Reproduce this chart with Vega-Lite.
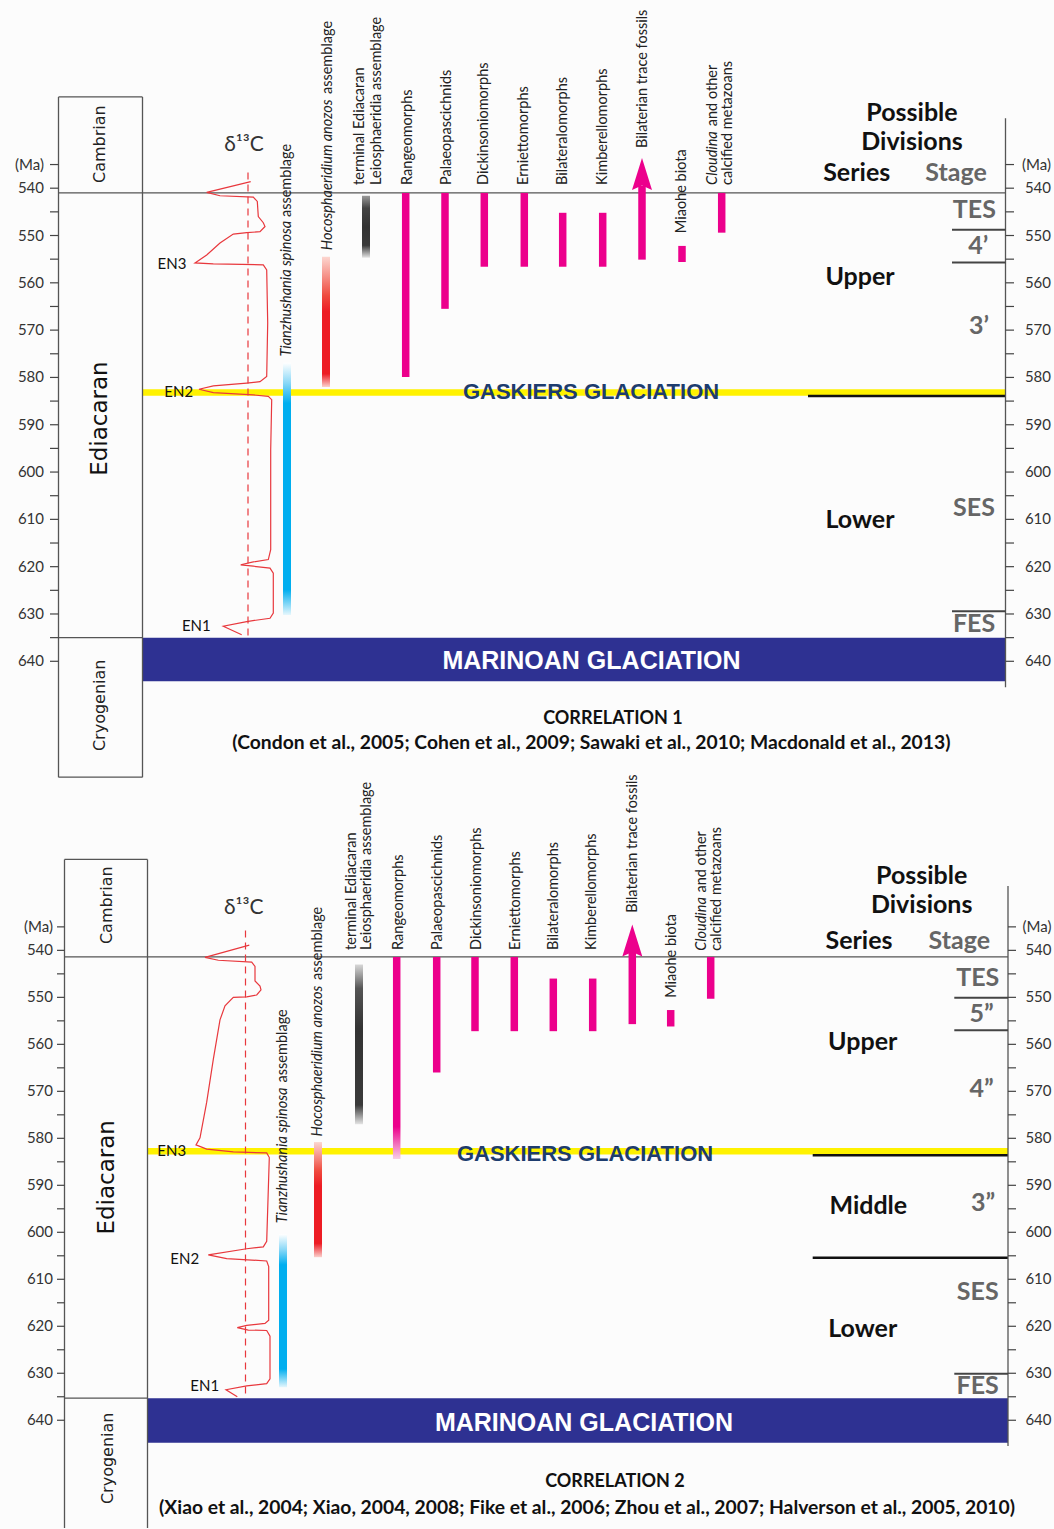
{
"$schema":"https://vega.github.io/schema/vega-lite/v6.json",
"width":1054,"height":1529,
"autosize":{"type":"fit","contains":"padding"},
"padding":0,
"background":"#fcfcfc",
"config":{"view":{"stroke":null},"axis":{"disable":true},"text":{"font":"Lato"}},
"datasets":{
"c1":[{"i":1,"c":250.7,"a":538.6},{"i":2,"c":206.7,"a":540.9},{"i":3,"c":220,"a":541.6},{"i":4,"c":253.3,"a":541.9},{"i":5,"c":257.3,"a":542.8},{"i":6,"c":258.3,"a":546.0},{"i":7,"c":263.3,"a":547.3},{"i":8,"c":265,"a":548.1},{"i":9,"c":260,"a":549.2},{"i":10,"c":246.7,"a":549.4},{"i":11,"c":233.3,"a":549.7},{"i":12,"c":220,"a":551.6},{"i":13,"c":206.7,"a":554.1},{"i":14,"c":195,"a":555.8},{"i":15,"c":213.3,"a":556.0},{"i":16,"c":263.3,"a":556.2},{"i":17,"c":266.7,"a":557.3},{"i":18,"c":267.7,"a":568.5},{"i":19,"c":266.7,"a":579.8},{"i":20,"c":260,"a":580.9},{"i":21,"c":246.7,"a":581.2},{"i":22,"c":213.3,"a":581.8},{"i":23,"c":199,"a":582.5},{"i":24,"c":213.3,"a":583.2},{"i":25,"c":253.3,"a":583.7},{"i":26,"c":268.3,"a":584.0},{"i":27,"c":271.7,"a":584.7},{"i":28,"c":270.7,"a":595.3},{"i":29,"c":270.7,"a":616.4},{"i":30,"c":268.3,"a":618.5},{"i":31,"c":253.3,"a":619.0},{"i":32,"c":240.7,"a":619.6},{"i":33,"c":253.3,"a":619.9},{"i":34,"c":270,"a":620.3},{"i":35,"c":273.3,"a":621.4},{"i":36,"c":273.3,"a":629.8},{"i":37,"c":270,"a":630.9},{"i":38,"c":246.7,"a":631.6},{"i":39,"c":223.3,"a":632.6},{"i":40,"c":241.7,"a":634.4}],
"c2":[{"i":1,"c":249.3,"a":538.9},{"i":2,"c":205,"a":541.5},{"i":3,"c":218.3,"a":542.1},{"i":4,"c":251.7,"a":542.5},{"i":5,"c":255,"a":543.4},{"i":6,"c":255,"a":546.5},{"i":7,"c":260,"a":547.6},{"i":8,"c":261,"a":548.4},{"i":9,"c":256.7,"a":549.5},{"i":10,"c":246.7,"a":549.9},{"i":11,"c":233.3,"a":550.0},{"i":12,"c":225,"a":551.8},{"i":13,"c":220,"a":554.8},{"i":14,"c":213.3,"a":563.2},{"i":15,"c":206.7,"a":572.3},{"i":16,"c":200,"a":579.9},{"i":17,"c":196,"a":581.4},{"i":18,"c":206.7,"a":582.3},{"i":19,"c":233.3,"a":582.9},{"i":20,"c":266.7,"a":583.1},{"i":21,"c":269.3,"a":584.1},{"i":22,"c":266.7,"a":601.9},{"i":23,"c":263.3,"a":603.1},{"i":24,"c":246.7,"a":603.5},{"i":25,"c":208.3,"a":604.8},{"i":26,"c":226.7,"a":605.6},{"i":27,"c":266.7,"a":606.1},{"i":28,"c":268.7,"a":607.3},{"i":29,"c":268.7,"a":618.7},{"i":30,"c":265,"a":619.4},{"i":31,"c":246.7,"a":619.8},{"i":32,"c":237.3,"a":620.3},{"i":33,"c":248.3,"a":620.8},{"i":34,"c":266.7,"a":620.9},{"i":35,"c":270,"a":622.1},{"i":36,"c":270,"a":631.2},{"i":37,"c":266.7,"a":632.2},{"i":38,"c":246.7,"a":632.7},{"i":39,"c":226,"a":633.5},{"i":40,"c":237.3,"a":635.0}]
},
"resolve":{"scale":{"y":"independent"}},
"layer":[
{
"encoding":{
"x":{"field":"c","type":"quantitative","scale":{"domain":[0,1054],"nice":false,"zero":false}},
"y":{"field":"a","type":"quantitative","scale":{"domain":[500.22,823.2],"reverse":true,"nice":false,"zero":false}}
},
"layer":[
{"data":{"values":[{"c":142.5,"c2":1005.5,"a":635,"a2":644.2}]},"mark":{"type":"rect","color":"#2e3192"},"encoding":{"x2":{"field":"c2"},"y2":{"field":"a2"}}},
{"data":{"values":[{"c":142.5,"c2":1005.5,"a":583.2}]},"mark":{"type":"rule","color":"#fff200","strokeWidth":6.5},"encoding":{"x2":{"field":"c2"}}},
{"data":{"values":[{"c":808,"c2":1005.5,"a":583.95}]},"mark":{"type":"rule","color":"#111111","strokeWidth":2.5},"encoding":{"x2":{"field":"c2"}}},
{"data":{"values":[
{"c":58.5,"c2":1005.5,"a":541,"a2":541},
{"c":58.5,"c2":142.5,"a":635,"a2":635},
{"c":58.5,"c2":142.5,"a":520.7,"a2":520.7},
{"c":58.5,"c2":142.5,"a":664.5,"a2":664.5},
{"c":58.5,"c2":58.5,"a":520.7,"a2":664.5},
{"c":142.5,"c2":142.5,"a":520.7,"a2":664.5},
{"c":1005.5,"c2":1005.5,"a":525.2,"a2":645.5}
]},"mark":{"type":"rule","color":"#555555","strokeWidth":1.3},"encoding":{"x2":{"field":"c2"},"y2":{"field":"a2"}}},
{"data":{"values":[{"c":952,"c2":1005.5,"a":548.8},{"c":952,"c2":1005.5,"a":555.7},{"c":952,"c2":1005.5,"a":629.4}]},"mark":{"type":"rule","color":"#444444","strokeWidth":2},"encoding":{"x2":{"field":"c2"}}},
{"data":{"values":[
{"c":50,"c2":58.5,"a":535},{"c":50,"c2":58.5,"a":540},{"c":50,"c2":58.5,"a":545},{"c":50,"c2":58.5,"a":550},{"c":50,"c2":58.5,"a":555},{"c":50,"c2":58.5,"a":560},{"c":50,"c2":58.5,"a":565},{"c":50,"c2":58.5,"a":570},{"c":50,"c2":58.5,"a":575},{"c":50,"c2":58.5,"a":580},{"c":50,"c2":58.5,"a":585},{"c":50,"c2":58.5,"a":590},{"c":50,"c2":58.5,"a":595},{"c":50,"c2":58.5,"a":600},{"c":50,"c2":58.5,"a":605},{"c":50,"c2":58.5,"a":610},{"c":50,"c2":58.5,"a":615},{"c":50,"c2":58.5,"a":620},{"c":50,"c2":58.5,"a":625},{"c":50,"c2":58.5,"a":630},{"c":50,"c2":58.5,"a":635},{"c":50,"c2":58.5,"a":640},
{"c":1005.5,"c2":1014,"a":535},{"c":1005.5,"c2":1014,"a":540},{"c":1005.5,"c2":1014,"a":545},{"c":1005.5,"c2":1014,"a":550},{"c":1005.5,"c2":1014,"a":555},{"c":1005.5,"c2":1014,"a":560},{"c":1005.5,"c2":1014,"a":565},{"c":1005.5,"c2":1014,"a":570},{"c":1005.5,"c2":1014,"a":575},{"c":1005.5,"c2":1014,"a":580},{"c":1005.5,"c2":1014,"a":585},{"c":1005.5,"c2":1014,"a":590},{"c":1005.5,"c2":1014,"a":595},{"c":1005.5,"c2":1014,"a":600},{"c":1005.5,"c2":1014,"a":605},{"c":1005.5,"c2":1014,"a":610},{"c":1005.5,"c2":1014,"a":615},{"c":1005.5,"c2":1014,"a":620},{"c":1005.5,"c2":1014,"a":625},{"c":1005.5,"c2":1014,"a":630},{"c":1005.5,"c2":1014,"a":635},{"c":1005.5,"c2":1014,"a":640}
]},"mark":{"type":"rule","color":"#444444","strokeWidth":1.2},"encoding":{"x2":{"field":"c2"}}},
{"data":{"values":[
{"t":"(Ma)","c":44,"a":535},{"t":"540","c":44,"a":540},{"t":"550","c":44,"a":550},{"t":"560","c":44,"a":560},{"t":"570","c":44,"a":570},{"t":"580","c":44,"a":580},{"t":"590","c":44,"a":590},{"t":"600","c":44,"a":600},{"t":"610","c":44,"a":610},{"t":"620","c":44,"a":620},{"t":"630","c":44,"a":630},{"t":"640","c":44,"a":640},
{"t":"(Ma)","c":1051,"a":535},{"t":"540","c":1051,"a":540},{"t":"550","c":1051,"a":550},{"t":"560","c":1051,"a":560},{"t":"570","c":1051,"a":570},{"t":"580","c":1051,"a":580},{"t":"590","c":1051,"a":590},{"t":"600","c":1051,"a":600},{"t":"610","c":1051,"a":610},{"t":"620","c":1051,"a":620},{"t":"630","c":1051,"a":630},{"t":"640","c":1051,"a":640}
]},"mark":{"type":"text","align":"right","baseline":"middle","fontSize":15,"color":"#333333"},"encoding":{"text":{"field":"t"}}},
{"data":{"values":[{"c":248,"a":536.7,"a2":634.7}]},"mark":{"type":"rule","color":"#e8383d","strokeWidth":1.2,"strokeDash":[7,5]},"encoding":{"y2":{"field":"a2"}}},
{"data":{"name":"c1"},"mark":{"type":"line","color":"#e8383d","strokeWidth":1.2},"encoding":{"order":{"field":"i","type":"quantitative"}}},
{"data":{"values":[{"t":"EN3","c":172,"a":556.0},{"t":"EN2","c":178.7,"a":583.0},{"t":"EN1","c":196.3,"a":632.5}]},"mark":{"type":"text","fontSize":15,"color":"#111111"},"encoding":{"text":{"field":"t"}}},
{"data":{"values":[{"t":"δ¹³C","c":244,"a":530.8}]},"mark":{"type":"text","fontSize":21,"color":"#333333"},"encoding":{"text":{"field":"t"}}},
{"data":{"values":[{"t":"Cambrian","c":100,"a":530.7},{"t":"Cryogenian","c":100,"a":649.3}]},"mark":{"type":"text","font":"DejaVu Sans","fontSize":16,"angle":270,"color":"#222222"},"encoding":{"text":{"field":"t"}}},
{"data":{"values":[{"t":"Ediacaran","c":100,"a":588.7}]},"mark":{"type":"text","font":"DejaVu Sans","fontSize":23,"angle":270,"color":"#111111"},"encoding":{"text":{"field":"t"}}},
{"data":{"values":[{"c":287,"a":576.9,"a2":630.2}]},"mark":{"type":"rect","xOffset":-4,"x2Offset":4,"fill":{"gradient":"linear","x1":0,"y1":0,"x2":0,"y2":1,"stops":[{"offset":0,"color":"#ffffff"},{"offset":0.08,"color":"#8ad8f7"},{"offset":0.16,"color":"#00aeef"},{"offset":0.9,"color":"#00aeef"},{"offset":1,"color":"#e6f7fd"}]}},"encoding":{"x2":{"field":"c"},"y2":{"field":"a2"}}},
{"data":{"values":[{"c":326,"a":554.5,"a2":582}]},"mark":{"type":"rect","xOffset":-4,"x2Offset":4,"fill":{"gradient":"linear","x1":0,"y1":0,"x2":0,"y2":1,"stops":[{"offset":0,"color":"#fcd6d0"},{"offset":0.3,"color":"#ef4a3e"},{"offset":0.42,"color":"#ed1c24"},{"offset":0.9,"color":"#ed1c24"},{"offset":1,"color":"#fad0cc"}]}},"encoding":{"x2":{"field":"c"},"y2":{"field":"a2"}}},
{"data":{"values":[{"c":366,"a":541.6,"a2":554.7}]},"mark":{"type":"rect","xOffset":-4,"x2Offset":4,"fill":{"gradient":"linear","x1":0,"y1":0,"x2":0,"y2":1,"stops":[{"offset":0,"color":"#9a9a9a"},{"offset":0.2,"color":"#444444"},{"offset":0.5,"color":"#333333"},{"offset":0.8,"color":"#3a3a3a"},{"offset":1,"color":"#e4e4e4"}]}},"encoding":{"x2":{"field":"c"},"y2":{"field":"a2"}}},
{"data":{"values":[
{"taxon":"Rangeomorphs","c":405.7,"a":541,"a2":579.9},
{"taxon":"Palaeopascichnids","c":445,"a":541,"a2":565.5},
{"taxon":"Dickinsoniomorphs","c":484.3,"a":541,"a2":556.6},
{"taxon":"Erniettomorphs","c":524.3,"a":541,"a2":556.6},
{"taxon":"Bilateralomorphs","c":562.7,"a":545.2,"a2":556.6},
{"taxon":"Kimberellomorphs","c":602.7,"a":545.2,"a2":556.6},
{"taxon":"Bilaterian trace fossils","c":642,"a":539.5,"a2":555.1},
{"taxon":"Miaohe biota","c":682,"a":552.2,"a2":555.6},
{"taxon":"Cloudina","c":721.7,"a":541,"a2":549.4}
]},"mark":{"type":"rect","color":"#ec008c","xOffset":-3.75,"x2Offset":3.75},"encoding":{"x2":{"field":"c"},"y2":{"field":"a2"}}},
{"data":{"values":[{"c":642,"a":537.0}]},"mark":{"type":"point","shape":"M0,-1L0.625,1L0,0.72L-0.625,1Z","size":1024,"filled":true,"color":"#ec008c","opacity":1,"strokeWidth":0}},
{"data":{"values":[
{"t":"terminal Ediacaran","c":360,"a":539.3},
{"t":"Leiosphaeridia assemblage","c":376.7,"a":539.3},
{"t":"Rangeomorphs","c":407.7,"a":539.3},
{"t":"Palaeopascichnids","c":446.7,"a":539.3},
{"t":"Dickinsoniomorphs","c":484.3,"a":539.3},
{"t":"Erniettomorphs","c":524.3,"a":539.3},
{"t":"Bilateralomorphs","c":562.7,"a":539.3},
{"t":"Kimberellomorphs","c":602.7,"a":539.3},
{"t":"Bilaterian trace fossils","c":643,"a":531.5},
{"t":"Miaohe biota","c":681.7,"a":549.5},
{"t":"calcified metazoans","c":728,"a":539.3},
{"t":"assemblage","c":287,"a":546.1},
{"t":"assemblage","c":328,"a":520.1},
{"t":"and other","c":713,"a":526.9}
]},"mark":{"type":"text","angle":270,"align":"left","baseline":"middle","fontSize":14.5,"color":"#222222"},"encoding":{"text":{"field":"t"}}},
{"data":{"values":[{"t":"Tianzhushania spinosa","c":287,"a":575.6},{"t":"Hocosphaeridium anozos","c":328,"a":553.1},{"t":"Cloudina","c":713,"a":539.3}]},"mark":{"type":"text","angle":270,"align":"left","baseline":"middle","fontSize":14.5,"fontStyle":"italic","color":"#222222"},"encoding":{"text":{"field":"t"}}},
{"data":{"values":[{"t":"541 Ma","a":541.8},{"t":"542 Ma","a":544.4},{"t":"546 Ma","a":547.1},{"t":"551 Ma","a":549.2},{"t":"553 Ma","a":551.3},{"t":"555 Ma","a":554.9},{"t":"559 Ma","a":558.5},{"t":"565 Ma","a":565.7},{"t":"579 Ma","a":578.2},{"t":"582 Ma","a":581.5},{"t":"584 Ma","a":584.6},{"t":"614 Ma","a":613.6},{"t":"632 Ma","a":630.6},{"t":"635 Ma","a":633.2}]},"mark":{"type":"text","align":"left","baseline":"middle","fontSize":11.5,"color":"#ff3b3b"},"encoding":{"x":{"datum":750,"type":"quantitative","scale":{"domain":[0,1054],"nice":false,"zero":false}},"text":{"field":"t"}}},
{"data":{"values":[{"t":"556 Ma","a":555.8},{"t":"561 Ma","a":560.3},{"t":"565 Ma","a":565.7},{"t":"569 Ma","a":569.5}]},"mark":{"type":"text","align":"left","baseline":"middle","fontSize":11.5,"color":"#5b5ea6"},"encoding":{"x":{"datum":692,"type":"quantitative","scale":{"domain":[0,1054],"nice":false,"zero":false}},"text":{"field":"t"}}},
{"data":{"values":[{"t":"Possible","c":912,"a":524.1},{"t":"Divisions","c":912,"a":530.3},{"t":"Series","c":856.7,"a":536.7},{"t":"Upper","c":860,"a":558.8},{"t":"Lower","c":860,"a":610.1}]},"mark":{"type":"text","fontSize":25,"fontWeight":"bold","color":"#111111"},"encoding":{"text":{"field":"t"}}},
{"data":{"values":[{"t":"Stage","c":956,"a":536.7},{"t":"TES","c":974.3,"a":544.6},{"t":"4’","c":978.3,"a":552.2},{"t":"3’","c":979,"a":569.1},{"t":"SES","c":974,"a":607.6},{"t":"FES","c":974,"a":632.2}]},"mark":{"type":"text","fontSize":25,"fontWeight":"bold","color":"#666666"},"encoding":{"text":{"field":"t"}}},
{"data":{"values":[{"t":"GASKIERS GLACIATION","c":591,"a":583.0}]},"mark":{"type":"text","font":"Liberation Sans","fontSize":22,"fontWeight":"bold","color":"#1d3c6e"},"encoding":{"text":{"field":"t"}}},
{"data":{"values":[{"t":"MARINOAN GLACIATION","c":591.5,"a":640}]},"mark":{"type":"text","font":"Liberation Sans","fontSize":25,"fontWeight":"bold","color":"#ffffff"},"encoding":{"text":{"field":"t"}}},
{"data":{"values":[{"t":"CORRELATION 1","c":613,"a":652.2}]},"mark":{"type":"text","fontSize":18,"fontWeight":"bold","color":"#111111"},"encoding":{"text":{"field":"t"}}},
{"data":{"values":[{"t":"(Condon et al., 2005; Cohen et al., 2009; Sawaki et al., 2010; Macdonald et al., 2013)","c":591.4,"a":657.3}]},"mark":{"type":"text","fontSize":19.3,"fontWeight":"bold","color":"#111111"},"encoding":{"text":{"field":"t"}}}
]
},
{
"encoding":{
"x":{"field":"c","type":"quantitative","scale":{"domain":[0,1054],"nice":false,"zero":false}},
"y":{"field":"a","type":"quantitative","scale":{"domain":[337.75,662.93],"reverse":true,"nice":false,"zero":false}}
},
"layer":[
{"data":{"values":[{"c":147.5,"c2":1008,"a":635.3,"a2":644.8}]},"mark":{"type":"rect","color":"#2e3192"},"encoding":{"x2":{"field":"c2"},"y2":{"field":"a2"}}},
{"data":{"values":[{"c":147.5,"c2":1008,"a":582.75}]},"mark":{"type":"rule","color":"#fff200","strokeWidth":6.5},"encoding":{"x2":{"field":"c2"}}},
{"data":{"values":[{"c":812.7,"c2":1008,"a":583.6},{"c":812.7,"c2":1008,"a":605.4}]},"mark":{"type":"rule","color":"#111111","strokeWidth":2.5},"encoding":{"x2":{"field":"c2"}}},
{"data":{"values":[
{"c":64.5,"c2":1008,"a":541.4,"a2":541.4},
{"c":64.5,"c2":147.5,"a":635.3,"a2":635.3},
{"c":64.5,"c2":147.5,"a":520.65,"a2":520.65},
{"c":64.5,"c2":64.5,"a":520.65,"a2":662.93},
{"c":147.5,"c2":147.5,"a":520.65,"a2":662.93},
{"c":1008,"c2":1008,"a":526.3,"a2":645.5}
]},"mark":{"type":"rule","color":"#555555","strokeWidth":1.3},"encoding":{"x2":{"field":"c2"},"y2":{"field":"a2"}}},
{"data":{"values":[{"c":954.3,"c2":1008,"a":550.1},{"c":954.3,"c2":1008,"a":557.0},{"c":954.3,"c2":1008,"a":630.1}]},"mark":{"type":"rule","color":"#444444","strokeWidth":2},"encoding":{"x2":{"field":"c2"}}},
{"data":{"values":[
{"c":57,"c2":64.5,"a":535},{"c":57,"c2":64.5,"a":540},{"c":57,"c2":64.5,"a":545},{"c":57,"c2":64.5,"a":550},{"c":57,"c2":64.5,"a":555},{"c":57,"c2":64.5,"a":560},{"c":57,"c2":64.5,"a":565},{"c":57,"c2":64.5,"a":570},{"c":57,"c2":64.5,"a":575},{"c":57,"c2":64.5,"a":580},{"c":57,"c2":64.5,"a":585},{"c":57,"c2":64.5,"a":590},{"c":57,"c2":64.5,"a":595},{"c":57,"c2":64.5,"a":600},{"c":57,"c2":64.5,"a":605},{"c":57,"c2":64.5,"a":610},{"c":57,"c2":64.5,"a":615},{"c":57,"c2":64.5,"a":620},{"c":57,"c2":64.5,"a":625},{"c":57,"c2":64.5,"a":630},{"c":57,"c2":64.5,"a":635},{"c":57,"c2":64.5,"a":640},
{"c":1008,"c2":1016,"a":535},{"c":1008,"c2":1016,"a":540},{"c":1008,"c2":1016,"a":545},{"c":1008,"c2":1016,"a":550},{"c":1008,"c2":1016,"a":555},{"c":1008,"c2":1016,"a":560},{"c":1008,"c2":1016,"a":565},{"c":1008,"c2":1016,"a":570},{"c":1008,"c2":1016,"a":575},{"c":1008,"c2":1016,"a":580},{"c":1008,"c2":1016,"a":585},{"c":1008,"c2":1016,"a":590},{"c":1008,"c2":1016,"a":595},{"c":1008,"c2":1016,"a":600},{"c":1008,"c2":1016,"a":605},{"c":1008,"c2":1016,"a":610},{"c":1008,"c2":1016,"a":615},{"c":1008,"c2":1016,"a":620},{"c":1008,"c2":1016,"a":625},{"c":1008,"c2":1016,"a":630},{"c":1008,"c2":1016,"a":635},{"c":1008,"c2":1016,"a":640}
]},"mark":{"type":"rule","color":"#444444","strokeWidth":1.2},"encoding":{"x2":{"field":"c2"}}},
{"data":{"values":[
{"t":"(Ma)","c":53,"a":535},{"t":"540","c":53,"a":540},{"t":"550","c":53,"a":550},{"t":"560","c":53,"a":560},{"t":"570","c":53,"a":570},{"t":"580","c":53,"a":580},{"t":"590","c":53,"a":590},{"t":"600","c":53,"a":600},{"t":"610","c":53,"a":610},{"t":"620","c":53,"a":620},{"t":"630","c":53,"a":630},{"t":"640","c":53,"a":640},
{"t":"(Ma)","c":1051.5,"a":535},{"t":"540","c":1051.5,"a":540},{"t":"550","c":1051.5,"a":550},{"t":"560","c":1051.5,"a":560},{"t":"570","c":1051.5,"a":570},{"t":"580","c":1051.5,"a":580},{"t":"590","c":1051.5,"a":590},{"t":"600","c":1051.5,"a":600},{"t":"610","c":1051.5,"a":610},{"t":"620","c":1051.5,"a":620},{"t":"630","c":1051.5,"a":630},{"t":"640","c":1051.5,"a":640}
]},"mark":{"type":"text","align":"right","baseline":"middle","fontSize":15,"color":"#333333"},"encoding":{"text":{"field":"t"}}},
{"data":{"values":[{"c":245.5,"a":535.8,"a2":635.3}]},"mark":{"type":"rule","color":"#e8383d","strokeWidth":1.2,"strokeDash":[7,5]},"encoding":{"y2":{"field":"a2"}}},
{"data":{"name":"c2"},"mark":{"type":"line","color":"#e8383d","strokeWidth":1.2},"encoding":{"order":{"field":"i","type":"quantitative"}}},
{"data":{"values":[{"t":"EN3","c":171.7,"a":582.7},{"t":"EN2","c":184.7,"a":605.6},{"t":"EN1","c":204.7,"a":632.7}]},"mark":{"type":"text","fontSize":15,"color":"#111111"},"encoding":{"text":{"field":"t"}}},
{"data":{"values":[{"t":"δ¹³C","c":243.8,"a":530.9}]},"mark":{"type":"text","fontSize":21,"color":"#333333"},"encoding":{"text":{"field":"t"}}},
{"data":{"values":[{"t":"Cambrian","c":106.7,"a":530.4},{"t":"Cryogenian","c":107.5,"a":648.1}]},"mark":{"type":"text","font":"DejaVu Sans","fontSize":16,"angle":270,"color":"#222222"},"encoding":{"text":{"field":"t"}}},
{"data":{"values":[{"t":"Ediacaran","c":107,"a":588.3}]},"mark":{"type":"text","font":"DejaVu Sans","fontSize":23,"angle":270,"color":"#111111"},"encoding":{"text":{"field":"t"}}},
{"data":{"values":[{"c":283,"a":600.4,"a2":633}]},"mark":{"type":"rect","xOffset":-4,"x2Offset":4,"fill":{"gradient":"linear","x1":0,"y1":0,"x2":0,"y2":1,"stops":[{"offset":0,"color":"#ffffff"},{"offset":0.1,"color":"#8ad8f7"},{"offset":0.2,"color":"#00aeef"},{"offset":0.88,"color":"#00aeef"},{"offset":1,"color":"#e6f7fd"}]}},"encoding":{"x2":{"field":"c"},"y2":{"field":"a2"}}},
{"data":{"values":[{"c":318,"a":580.8,"a2":605.3}]},"mark":{"type":"rect","xOffset":-4,"x2Offset":4,"fill":{"gradient":"linear","x1":0,"y1":0,"x2":0,"y2":1,"stops":[{"offset":0,"color":"#fcd6d0"},{"offset":0.25,"color":"#ef4a3e"},{"offset":0.38,"color":"#ed1c24"},{"offset":0.88,"color":"#ed1c24"},{"offset":1,"color":"#fad0cc"}]}},"encoding":{"x2":{"field":"c"},"y2":{"field":"a2"}}},
{"data":{"values":[{"c":359,"a":543.0,"a2":577.0}]},"mark":{"type":"rect","xOffset":-4,"x2Offset":4,"fill":{"gradient":"linear","x1":0,"y1":0,"x2":0,"y2":1,"stops":[{"offset":0,"color":"#d8d8d8"},{"offset":0.15,"color":"#555555"},{"offset":0.4,"color":"#333333"},{"offset":0.88,"color":"#3a3a3a"},{"offset":1,"color":"#e4e4e4"}]}},"encoding":{"x2":{"field":"c"},"y2":{"field":"a2"}}},
{"data":{"values":[{"c":396.7,"a":541.4,"a2":584.4}]},"mark":{"type":"rect","xOffset":-3.75,"x2Offset":3.75,"fill":{"gradient":"linear","x1":0,"y1":0,"x2":0,"y2":1,"stops":[{"offset":0,"color":"#ec008c"},{"offset":0.84,"color":"#ec008c"},{"offset":1,"color":"#f8cfe4"}]}},"encoding":{"x2":{"field":"c"},"y2":{"field":"a2"}}},
{"data":{"values":[
{"taxon":"Palaeopascichnids","c":436.7,"a":541.4,"a2":566.0},
{"taxon":"Dickinsoniomorphs","c":475,"a":541.4,"a2":557.2},
{"taxon":"Erniettomorphs","c":514.3,"a":541.4,"a2":557.2},
{"taxon":"Bilateralomorphs","c":553.3,"a":546.0,"a2":557.2},
{"taxon":"Kimberellomorphs","c":592.7,"a":546.0,"a2":557.2},
{"taxon":"Bilaterian trace fossils","c":632.3,"a":540.3,"a2":555.7},
{"taxon":"Miaohe biota","c":670.7,"a":552.7,"a2":556.2},
{"taxon":"Cloudina","c":710.7,"a":541.4,"a2":550.3}
]},"mark":{"type":"rect","color":"#ec008c","xOffset":-3.75,"x2Offset":3.75},"encoding":{"x2":{"field":"c"},"y2":{"field":"a2"}}},
{"data":{"values":[{"c":632.3,"a":537.9}]},"mark":{"type":"point","shape":"M0,-1L0.625,1L0,0.72L-0.625,1Z","size":1024,"filled":true,"color":"#ec008c","opacity":1,"strokeWidth":0}},
{"data":{"values":[
{"t":"terminal Ediacaran","c":351.7,"a":539.9},
{"t":"Leiosphaeridia assemblage","c":367.3,"a":539.9},
{"t":"Rangeomorphs","c":399,"a":539.9},
{"t":"Palaeopascichnids","c":438.3,"a":539.9},
{"t":"Dickinsoniomorphs","c":476.7,"a":539.9},
{"t":"Erniettomorphs","c":515.7,"a":539.9},
{"t":"Bilateralomorphs","c":554,"a":539.9},
{"t":"Kimberellomorphs","c":592.3,"a":539.9},
{"t":"Bilaterian trace fossils","c":633.3,"a":532.0},
{"t":"Miaohe biota","c":671.7,"a":550.1},
{"t":"calcified metazoans","c":716.7,"a":540.1},
{"t":"assemblage","c":283,"a":568.1},
{"t":"assemblage","c":318.3,"a":546.3},
{"t":"and other","c":701.7,"a":527.7}
]},"mark":{"type":"text","angle":270,"align":"left","baseline":"middle","fontSize":14.5,"color":"#222222"},"encoding":{"text":{"field":"t"}}},
{"data":{"values":[{"t":"Tianzhushania spinosa","c":283,"a":598.1},{"t":"Hocosphaeridium anozos","c":318.3,"a":579.6},{"t":"Cloudina","c":701.7,"a":540.1}]},"mark":{"type":"text","angle":270,"align":"left","baseline":"middle","fontSize":14.5,"fontStyle":"italic","color":"#222222"},"encoding":{"text":{"field":"t"}}},
{"data":{"values":[{"t":"541 Ma","a":541.8},{"t":"542 Ma","a":544.5},{"t":"546 Ma","a":547.4},{"t":"551 Ma","a":549.9},{"t":"553 Ma","a":552.7},{"t":"555 Ma","a":555.7},{"t":"559 Ma","a":559.8},{"t":"565 Ma","a":565.8},{"t":"579 Ma","a":578.8},{"t":"582 Ma","a":581.3},{"t":"584 Ma","a":584.3},{"t":"614 Ma","a":614.6},{"t":"632 Ma","a":631.5},{"t":"635 Ma","a":633.6}]},"mark":{"type":"text","align":"left","baseline":"middle","fontSize":11.5,"color":"#ff3b3b"},"encoding":{"x":{"datum":756.7,"type":"quantitative","scale":{"domain":[0,1054],"nice":false,"zero":false}},"text":{"field":"t"}}},
{"data":{"values":[{"t":"556 Ma","a":557.1},{"t":"561 Ma","a":561.6},{"t":"565 Ma","a":565.8},{"t":"569 Ma","a":570.6}]},"mark":{"type":"text","align":"left","baseline":"middle","fontSize":11.5,"color":"#5b5ea6"},"encoding":{"x":{"datum":702.3,"type":"quantitative","scale":{"domain":[0,1054],"nice":false,"zero":false}},"text":{"field":"t"}}},
{"data":{"values":[{"t":"Possible","c":921.7,"a":524.26},{"t":"Divisions","c":921.7,"a":530.43},{"t":"Series","c":859,"a":538.0},{"t":"Upper","c":862.7,"a":559.5},{"t":"Middle","c":868.3,"a":594.4},{"t":"Lower","c":862.7,"a":620.6}]},"mark":{"type":"text","fontSize":25,"fontWeight":"bold","color":"#111111"},"encoding":{"text":{"field":"t"}}},
{"data":{"values":[{"t":"Stage","c":959.3,"a":538.0},{"t":"TES","c":977.7,"a":545.8},{"t":"5”","c":981.7,"a":553.6},{"t":"4”","c":981.7,"a":569.6},{"t":"3”","c":983,"a":593.7},{"t":"SES","c":977.7,"a":612.8},{"t":"FES","c":977.7,"a":632.7}]},"mark":{"type":"text","fontSize":25,"fontWeight":"bold","color":"#666666"},"encoding":{"text":{"field":"t"}}},
{"data":{"values":[{"t":"GASKIERS GLACIATION","c":585,"a":583.4}]},"mark":{"type":"text","font":"Liberation Sans","fontSize":22,"fontWeight":"bold","color":"#1d3c6e"},"encoding":{"text":{"field":"t"}}},
{"data":{"values":[{"t":"MARINOAN GLACIATION","c":584,"a":640.5}]},"mark":{"type":"text","font":"Liberation Sans","fontSize":25,"fontWeight":"bold","color":"#ffffff"},"encoding":{"text":{"field":"t"}}},
{"data":{"values":[{"t":"CORRELATION 2","c":615,"a":653.1}]},"mark":{"type":"text","fontSize":18,"fontWeight":"bold","color":"#111111"},"encoding":{"text":{"field":"t"}}},
{"data":{"values":[{"t":"(Xiao et al., 2004; Xiao, 2004, 2008; Fike et al., 2006; Zhou et al., 2007; Halverson et al., 2005, 2010)","c":587,"a":658.6}]},"mark":{"type":"text","fontSize":19.3,"fontWeight":"bold","color":"#111111"},"encoding":{"text":{"field":"t"}}}
]
}
]
}
